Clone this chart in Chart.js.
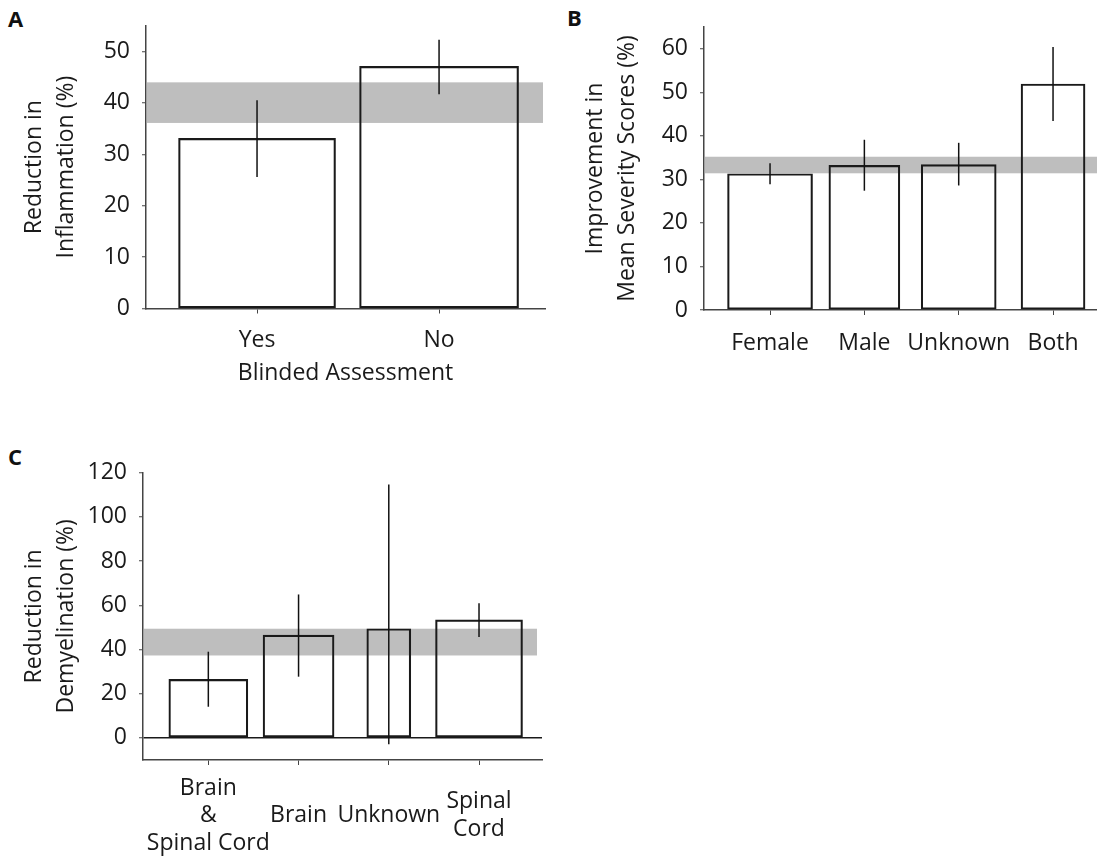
<!DOCTYPE html>
<html>
<head>
<meta charset="utf-8">
<script src="https://cdn.jsdelivr.net/npm/chart.js@4.4.0/dist/chart.umd.min.js"></script>
<style>
  body { margin: 0; background: #fff; }
  #wrap { position: relative; width: 1097px; height: 863px; overflow: hidden; }
  canvas { position: absolute; }
  .panel { position: absolute; font: bold 22px/1 "Open Sans", sans-serif; color: #111; }
</style>
</head>
<body>
<div id="wrap">
  <div class="panel" style="left:8px;top:7px">A</div>
  <div class="panel" style="left:567px;top:6px">B</div>
  <div class="panel" style="left:8px;top:445px">C</div>
  <canvas id="chartA" width="560" height="420" style="left:0;top:0"></canvas>
  <canvas id="chartB" width="537" height="420" style="left:560px;top:0"></canvas>
  <canvas id="chartC" width="560" height="423" style="left:0;top:440px"></canvas>
</div>
<script>
// A: blinded assessment
const blindedCategories = ["Yes", "No"];
const blindedValues = [33.1, 47.1];
const blindedLow = [25.6, 41.7];
const blindedHigh = [40.5, 52.3];
const blindedBand = [36.1, 44.0];
const blindedTicks = [0, 10, 20, 30, 40, 50];

// B: sex of animals
const sexCategories = ["Female", "Male", "Unknown", "Both"];
const sexValues = [31.3, 33.2, 33.4, 51.9];
const sexLow = [28.9, 27.4, 28.6, 43.4];
const sexHigh = [33.7, 39.1, 38.4, 60.4];
const sexBand = [31.4, 35.2];
const sexTicks = [0, 10, 20, 30, 40, 50, 60];

// C: site of demyelination assessment
const siteCategories = [["Brain", "&", "Spinal Cord"], "Brain", "Unknown", ["Spinal", "Cord"]];
const siteValues = [26.5, 46.5, 49.4, 53.4];
const siteLow = [14.1, 27.7, -2.9, 45.6];
const siteHigh = [39.0, 64.9, 114.7, 60.9];
const siteBand = [37.3, 49.4];
const siteTicks = [0, 20, 40, 60, 80, 100, 120];

Chart.defaults.font.family = "'Open Sans', sans-serif";
Chart.defaults.font.size = 23;
Chart.defaults.color = "#1a1a1a";

function drawPanel(id, p) {
    const ctx = document.getElementById(id).getContext("2d");
    const canvasH = ctx.canvas.height;

    // grey band behind the bars, error bars on top
    const overlay = {
        id: "overlay",
        beforeDatasetsDraw(chart) {
            const { ctx, chartArea, scales: { y } } = chart;
            const top = y.getPixelForValue(p.band[1]);
            const bottom = y.getPixelForValue(p.band[0]);
            ctx.save();
            ctx.fillStyle = "#bebebe";
            ctx.fillRect(chartArea.left + 1, top, chartArea.right - chartArea.left - 1 - p.bandInset, bottom - top);
            ctx.restore();
        },
        afterDatasetsDraw(chart) {
            const { ctx, scales: { x, y } } = chart;
            ctx.save();
            ctx.strokeStyle = "#111";
            ctx.lineWidth = 1.5;
            p.low.forEach((lo, i) => {
                const px = x.getPixelForValue(i);
                ctx.beginPath();
                ctx.moveTo(px, y.getPixelForValue(lo));
                ctx.lineTo(px, y.getPixelForValue(p.high[i]));
                ctx.stroke();
            });
            ctx.restore();
        }
    };

    new Chart(ctx, {
        type: "bar",
        data: {
            datasets: p.values.map((v, i) => ({
                data: [{ x: i, y: v }],
                maxBarThickness: p.barWidths[i],
                backgroundColor: "rgba(0,0,0,0)",
                borderColor: "#1a1a1a",
                borderWidth: 1.5,
                borderSkipped: false,
                grouped: false,
                barPercentage: 1,
                categoryPercentage: 1
            }))
        },
        options: {
            responsive: false,
            animation: false,
            devicePixelRatio: 1,
            layout: { padding: { top: p.area.top, right: p.area.right, bottom: 0, left: 0 } },
            plugins: { legend: { display: false }, tooltip: { enabled: false } },
            scales: {
                x: {
                    type: "linear",
                    offset: false,
                    min: p.xMin,
                    max: p.xMax,
                    afterBuildTicks: s => { s.ticks = p.categories.map((c, i) => ({ value: i })); },
                    afterFit: s => { s.height = canvasH - p.area.bottom; },
                    ticks: {
                        callback: v => p.categories[v],
                        padding: p.labelPad,
                        maxRotation: 0,
                        autoSkip: false,
                        crossAlign: p.crossAlign,
                        font: { lineHeight: 1.2 }
                    },
                    grid: { offset: false, drawOnChartArea: false, tickLength: 5, tickColor: "#444", tickWidth: 1 },
                    border: { color: "#444", width: 1.5 },
                    title: {
                        display: !!p.xTitle,
                        text: p.xTitle || "",
                        font: { size: 23, lineHeight: 1.2 },
                        padding: { top: 0, bottom: 33 }
                    }
                },
                y: {
                    min: p.yMin,
                    max: p.yMax,
                    afterBuildTicks: s => { s.ticks = p.yTicks.map(v => ({ value: v })); },
                    afterFit: s => { s.width = p.area.left; },
                    ticks: { padding: 12, autoSkip: false },
                    grid: {
                        drawOnChartArea: !!p.zeroLine,
                        color: c => (c.tick && c.tick.value === 0) ? "#1a1a1a" : "rgba(0,0,0,0)",
                        lineWidth: 1.5,
                        tickLength: 4,
                        tickColor: "#444",
                        tickWidth: 1
                    },
                    border: { color: "#444", width: 1.5 },
                    title: {
                        display: true,
                        text: p.yTitle,
                        font: { size: 23, lineHeight: 1.4 },
                        padding: { top: p.titlePad, bottom: 0 }
                    }
                }
            }
        },
        plugins: [overlay]
    });
}

drawPanel("chartA", {
    categories: blindedCategories, values: blindedValues, low: blindedLow, high: blindedHigh,
    band: blindedBand, yTicks: blindedTicks,
    yMin: 0, yMax: 55, xMin: -0.61, xMax: 1.582,
    area: { left: 146, top: 20, right: 15, bottom: 308.5 },
    barWidths: [157, 159], bandInset: 2, labelPad: 13, crossAlign: "near", titlePad: 18,
    yTitle: ["Reduction in", "Inflammation (%)"], xTitle: "Blinded Assessment"
});

drawPanel("chartB", {
    categories: sexCategories, values: sexValues, low: sexLow, high: sexHigh,
    band: sexBand, yTicks: sexTicks,
    yMin: 0, yMax: 65, xMin: -0.70, xMax: 3.466,
    area: { left: 144, top: 27, right: 0, bottom: 310 },
    barWidths: [85, 71, 75, 64], bandInset: 0, labelPad: 15, crossAlign: "near", titlePad: 19.5,
    yTitle: ["Improvement in", "Mean Severity Scores (%)"]
});

drawPanel("chartC", {
    categories: siteCategories, values: siteValues, low: siteLow, high: siteHigh,
    band: siteBand, yTicks: siteTicks,
    yMin: -10, yMax: 120, xMin: -0.724, xMax: 3.698,
    area: { left: 143, top: 32.7, right: 18, bottom: 320 },
    barWidths: [79, 71, 44, 87], bandInset: 5, labelPad: 23, crossAlign: "center", titlePad: 18,
    zeroLine: true,
    yTitle: ["Reduction in", "Demyelination (%)"]
});
</script>
</body>
</html>
